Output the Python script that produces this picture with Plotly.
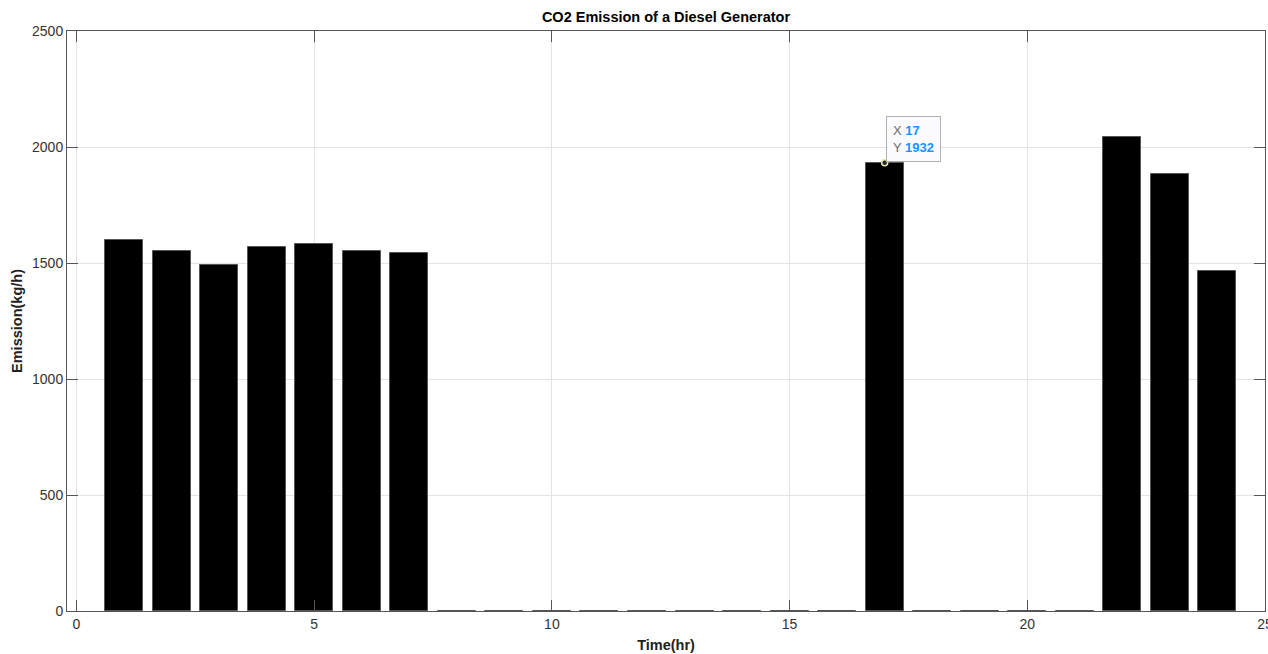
import plotly.graph_objects as go

hours = list(range(1, 25))
emission = [1599, 1550, 1490, 1568, 1583, 1553, 1543,
            0, 0, 0, 0, 0, 0, 0, 0, 0,
            1932,
            0, 0, 0, 0,
            2042, 1882, 1467]
x_ticks = [0, 5, 10, 15, 20, 25]
y_ticks = [0, 500, 1000, 1500, 2000, 2500]
tip_x = 17
tip_y = 1932

FONT = "Liberation Sans, Arial"

fig = go.Figure()
fig.add_trace(go.Bar(
    x=hours, y=emission, width=0.8,
    marker=dict(color="black", line=dict(color="#555555", width=1)),
    showlegend=False, hoverinfo="skip"))
fig.add_trace(go.Scatter(
    x=[tip_x], y=[tip_y], mode="markers",
    marker=dict(size=6, color="#2a2a2a", line=dict(color="#e8e8b0", width=1.5)),
    showlegend=False, hoverinfo="skip"))

fig.add_annotation(
    x=tip_x, y=tip_y, xref="x", yref="y", showarrow=False,
    xanchor="left", yanchor="bottom", xshift=1, yshift=1, align="left",
    text=("<span style='color:#6b6b6b'>X </span><b><span style='color:#1e90ff'>%d</span></b><br>"
          "<span style='color:#6b6b6b'>Y </span><b><span style='color:#1e90ff'>%d</span></b>") % (tip_x, tip_y),
    font=dict(family=FONT, size=13),
    bgcolor="#fbfbff", bordercolor="#b0b0b0", borderwidth=1, borderpad=6)

axis_common = dict(
    showgrid=True, gridcolor="#e3e3e3", gridwidth=1,
    showline=True, linecolor="#555555", linewidth=1, mirror="ticks",
    ticks="inside", ticklen=11, tickcolor="#555555", tickwidth=1,
    tickfont=dict(family=FONT, size=14, color="#333333"),
    ticklabeloverflow="allow",
    zeroline=False)

fig.update_layout(
    width=1268, height=654,
    margin=dict(l=67, r=3, t=31, b=43),
    paper_bgcolor="white", plot_bgcolor="white",
    bargap=0,
    title=dict(text="<b>CO2 Emission of a Diesel Generator</b>", x=0.5, xref="paper", xanchor="center",
               y=0.974, yanchor="middle",
               font=dict(family=FONT, size=14.5, color="#000000")),
    xaxis=dict(range=[-0.2, 25.0], tickvals=x_ticks, automargin=False,
               title=dict(text="<b>Time(hr)</b>", standoff=9,
                          font=dict(family=FONT, size=14.5, color="#222222")),
               **axis_common),
    yaxis=dict(range=[0, 2500], tickvals=y_ticks,
               title=dict(text="<b>Emission(kg/h)</b>", standoff=5,
                          font=dict(family=FONT, size=14.5, color="#222222")),
               **axis_common),
)

fig.write_html("out.html")
